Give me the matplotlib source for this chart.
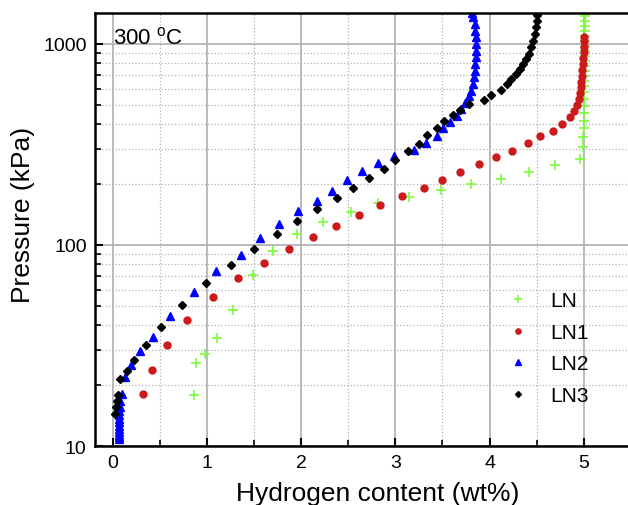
import matplotlib
matplotlib.use("Agg")
import matplotlib.pyplot as plt
from matplotlib.ticker import MultipleLocator, LogLocator, NullFormatter, FixedLocator, FixedFormatter

plt.rcParams['font.family'] = ['Liberation Sans', 'DejaVu Sans']
plt.rcParams['mathtext.fontset'] = 'custom'
plt.rcParams['mathtext.rm'] = 'Liberation Sans'

# LN (green +)
ln_x = [0.86, 0.88, 0.98, 1.11, 1.28, 1.49, 1.70, 1.95, 2.23, 2.53, 2.82, 3.14,
        3.48, 3.80, 4.12, 4.42, 4.70, 4.96, 4.99, 4.99, 5.0, 5.0, 5.0, 5.0, 5.0,
        5.0, 5.0, 5.0, 5.01, 5.01, 5.01, 5.01, 5.01, 5.01, 5.01, 5.01, 5.01,
        5.01, 5.01, 5.01, 5.01]
ln_p = [17.9, 25.9, 28.7, 34.4, 47.7, 71, 93, 113, 130, 145.6, 161, 174,
        187, 200, 214, 231, 250, 268, 306, 343, 381, 415, 454, 493, 532,
        575, 616, 657, 695, 736, 780, 826, 875, 926, 981, 1038, 1099,
        1164, 1233, 1306, 1373]

# LN1 (red circles)
ln1_x = [0.32, 0.42, 0.57, 0.79, 1.065, 1.33, 1.60, 1.87, 2.13, 2.37, 2.61, 2.84,
         3.07, 3.30, 3.50, 3.69, 3.89, 4.07, 4.24, 4.41, 4.54, 4.67, 4.77, 4.85,
         4.90, 4.93, 4.95, 4.96, 4.97, 4.97, 4.98, 4.98, 4.99, 4.99, 5.0, 5.0,
         5.0, 5.0]
ln1_p = [18.1, 23.9, 31.8, 42.5, 55, 68.5, 81, 95, 109, 125, 141, 158,
         175, 192, 211, 232, 252, 275, 294, 321, 348, 371, 400, 432,
         466, 499, 532, 570, 610, 650, 695, 743, 795, 849, 910, 971,
         1036, 1080]

# LN2 (blue triangles)
ln2_x = [0.07, 0.07, 0.07, 0.07, 0.07, 0.07, 0.07, 0.07, 0.07, 0.07, 0.075,
         0.08, 0.10, 0.124, 0.19, 0.287, 0.425, 0.61, 0.86, 1.10, 1.36, 1.56,
         1.76, 1.97, 2.17, 2.33, 2.49, 2.65, 2.82, 2.98, 3.20, 3.32, 3.44,
         3.51, 3.58, 3.65, 3.70, 3.74, 3.78, 3.80, 3.82, 3.83, 3.84, 3.85,
         3.86, 3.86, 3.86, 3.86, 3.85, 3.84, 3.82, 3.81]
ln2_p = [10.8, 11.1, 11.4, 11.8, 12.2, 12.6, 13.1, 13.6, 14.2, 14.9, 15.6,
         16.7, 18.1, 22, 25.4, 29.8, 35, 44.2, 58.3, 74.3, 89, 108,
         127, 147, 166, 186, 210, 233, 256, 278, 297, 321, 350,
         382, 410, 440, 475, 509, 549, 586, 633, 683, 736, 795,
         859, 926, 1000, 1079, 1164, 1258, 1358, 1420]

# LN3 (black diamonds)
ln3_x = [0.02, 0.03, 0.04, 0.05, 0.08, 0.145, 0.226, 0.347, 0.506, 0.73, 0.99,
         1.256, 1.50, 1.74, 1.96, 2.17, 2.38, 2.55, 2.72, 2.88, 3.00, 3.13,
         3.25, 3.34, 3.44, 3.52, 3.61, 3.69, 3.78, 3.94, 4.01, 4.12, 4.18,
         4.23, 4.28, 4.32, 4.36, 4.39, 4.42, 4.44, 4.46, 4.48, 4.49, 4.50, 4.50]
ln3_p = [14.4, 15.6, 16.8, 18.0, 21.5, 23.5, 26.8, 31.7, 39, 50.5, 64.7,
         79.4, 95.9, 113.7, 131, 151, 171, 192, 216, 240, 265, 292,
         319, 351, 382, 414, 443, 471, 503, 528, 557, 590, 632,
         670, 709, 751, 795, 841, 891, 962, 1038, 1122, 1211, 1306, 1390]

fig = plt.figure(figsize=(6.28, 5.06), dpi=100)
ax = fig.add_axes([0.1513, 0.1166, 0.8487, 0.8557])

ax.plot(ln_x, ln_p, ls='none', marker='+', ms=7, mew=1.2, color='#7cfc3c', label='LN')
ax.plot(ln1_x, ln1_p, ls='none', marker='o', ms=5, color='#cc1a1a', label='LN1')
ax.plot(ln2_x, ln2_p, ls='none', marker='^', ms=6, color='#0000ff', label='LN2')
ax.plot(ln3_x, ln3_p, ls='none', marker='D', ms=4, color='black', label='LN3')

ax.set_yscale('log')
ax.set_xlim(-0.19, 5.47)
ax.set_ylim(10, 1426)

ax.xaxis.set_major_locator(MultipleLocator(1))
ax.xaxis.set_minor_locator(MultipleLocator(0.5))
ax.yaxis.set_major_locator(FixedLocator([10, 100, 1000]))
ax.yaxis.set_major_formatter(FixedFormatter(['10', '100', '1000']))
ax.yaxis.set_minor_locator(LogLocator(base=10, subs=range(2, 10)))
ax.yaxis.set_minor_formatter(NullFormatter())

ax.grid(which='major', color='#b4b4b4', lw=1.3, ls='-')
ax.grid(which='minor', color='#b4b4b4', lw=0.9, ls=':')
ax.set_axisbelow(True)

ax.tick_params(which='major', direction='in', length=6, width=1.5, labelsize=14, pad=6)
ax.tick_params(which='minor', direction='in', length=4, width=1.2)
ax.tick_params(axis='y', which='both', right=False)
ax.tick_params(axis='x', which='both', top=False)

for s in ['left', 'bottom', 'top']:
    ax.spines[s].set_linewidth(1.8)
ax.spines['right'].set_visible(False)

ax.set_xlabel('Hydrogen content (wt%)', fontsize=19)
ax.xaxis.set_label_coords(0.53, -0.08)
ax.set_ylabel('Pressure (kPa)', fontsize=19)
ax.yaxis.set_label_coords(-0.112, 0.535)

ax.text(0.033, 0.968, '300 $^{\\mathrm{o}}$C', transform=ax.transAxes,
        fontsize=16, va='top', ha='left')

ax.legend(loc='center left', bbox_to_anchor=(0.72, 0.226), frameon=False,
          fontsize=15, handletextpad=0.53, labelspacing=0.6, markerscale=0.75,
          borderpad=0.4)

fig.savefig('out.png', dpi=100)
